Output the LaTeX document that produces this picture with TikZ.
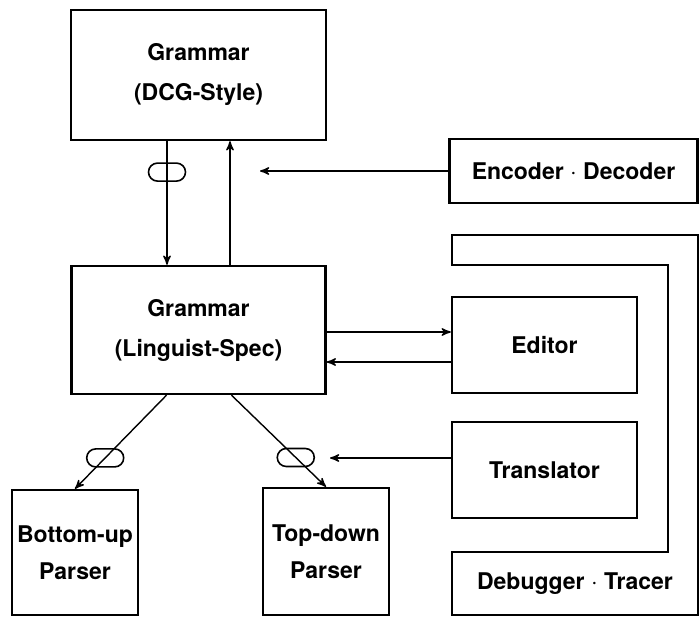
\documentclass[tikz,border=0pt]{standalone}
\usepackage{fontspec}
\setmainfont{TeX Gyre Heros}
\usetikzlibrary{positioning, arrows, shapes.misc}

\begin{document}
\begin{tikzpicture}[x=0.5pt,y=-0.5pt,>=stealth',
    font=\fontsize{11.5}{20}\selectfont\bfseries,
    box node/.style={rectangle,draw,line width=1.2pt,align=center,inner sep=0pt},
    pill node/.style={rounded rectangle,draw,line width=0.8pt,minimum width=18.5pt,minimum height=9pt,inner sep=0pt},
    link/.style={->,line width=0.7pt}]
\useasboundingbox (0,0) rectangle (700,619);

\node[box node,minimum width=127.5pt,minimum height=65pt] (dcg)    at (198.5,75)  {Grammar\\(DCG-Style)};
\node[box node,minimum width=127pt,minimum height=64pt]   (ling)   at (198.5,330) {Grammar\\(Linguist-Spec)};
\node[box node,minimum width=124pt,minimum height=32pt]   (encdec) at (573.5,171) {Encoder $\cdot$ Decoder};
\node[box node,minimum width=92.5pt,minimum height=48pt]  (editor) at (544.5,345) {Editor};
\node[box node,minimum width=92.5pt,minimum height=48pt]  (transl) at (544.5,470) {Translator};
\node[box node,minimum width=63pt,minimum height=62.5pt,font=\fontsize{11.5}{18.5}\selectfont\bfseries] (bottomup) at (75,552.5)  {Bottom-up\\Parser};
\node[box node,minimum width=63pt,minimum height=63.5pt,font=\fontsize{11.5}{18.5}\selectfont\bfseries] (topdown)  at (326,551.5) {Top-down\\Parser};

% debugger frame round editor and translator
\draw[line width=1.2pt] (452,235) -- (698,235) -- (698,615) -- (452,615) -- (452,552)
    -- (668,552) -- (668,265) -- (452,265) -- cycle;
\node (debug) at (575,584) {Debugger $\cdot$ Tracer};

\coordinate (encin)   at (260,171);
\coordinate (transin) at (330,458);

\draw[link] ([xshift=-15.75pt]dcg.south) -- node[pill node,pos=0.25] (pilltop) {} ([xshift=-15.75pt]ling.north);
\draw[link] ([xshift=15.75pt]ling.north) -- ([xshift=15.75pt]dcg.south);
\draw[link] (encdec.west) -- (encin);

\draw[link] ([yshift=6.5pt]editor.west -| ling.east) -- ([yshift=6.5pt]editor.west);
\draw[link] ([yshift=-8.5pt]editor.west) -- ([yshift=-8.5pt]editor.west -| ling.east);
\draw[link] ([yshift=6pt]transl.west) -- (transin);

\draw[link] ([xshift=-16pt]ling.south) -- node[pill node,pos=0.67] (pillleft) {} (bottomup.north);
\draw[link] ([xshift=16.5pt]ling.south) -- node[pill node,pos=0.68] (pillright) {} (topdown.north);
\end{tikzpicture}
\end{document}
